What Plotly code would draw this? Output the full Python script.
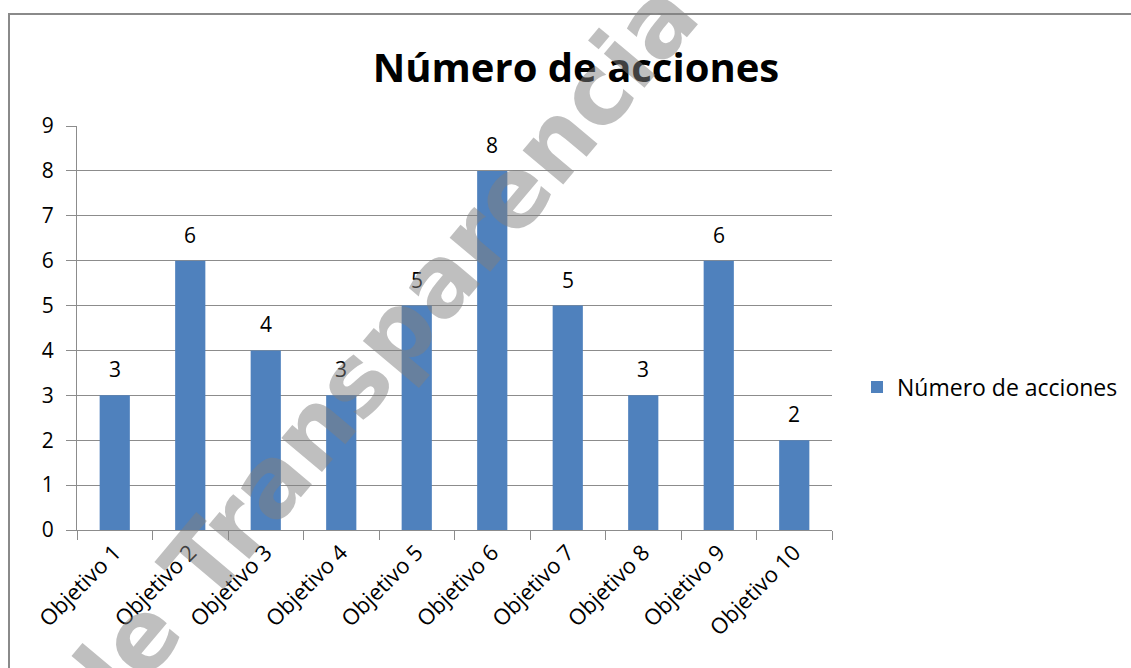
import plotly.graph_objects as go

categories = ["Objetivo 1", "Objetivo 2", "Objetivo 3", "Objetivo 4", "Objetivo 5",
              "Objetivo 6", "Objetivo 7", "Objetivo 8", "Objetivo 9", "Objetivo 10"]
values = [3, 6, 4, 3, 5, 8, 5, 3, 6, 2]
series_name = "Número de acciones"
title_text = "Número de acciones"
watermark_text = "de Transparencia"
y_ticks = list(range(0, 10))

W, H = 1131, 668
L, R, T, B = 77, 299, 126, 138
pw, ph = W - L - R, H - T - B

def px(x):
    return (x - L) / pw

def py(y):
    return (H - B - y) / ph

FONT = "Open Sans"
GRID = "#8C8C8C"

fig = go.Figure()
fig.add_trace(go.Bar(
    x=categories, y=values, name=series_name,
    marker=dict(color="#4F81BD", line=dict(width=0)),
    showlegend=True,
))

annotations = []
for c, v in zip(categories, values):
    annotations.append(dict(
        x=c, y=v, xref="x", yref="y", text=str(v), showarrow=False,
        yanchor="bottom", yshift=10, font=dict(family=FONT, size=21, color="#000000"),
    ))

annotations.append(dict(
    x=px(375), y=py(356), xref="paper", yref="paper", text="<b>" + watermark_text + "</b>",
    showarrow=False, textangle=-50, xanchor="center", yanchor="middle",
    font=dict(family="DejaVu Sans", size=97, color="rgba(128,128,128,0.5)"),
))

fig.update_layout(
    width=W, height=H,
    margin=dict(l=L, r=R, t=T, b=B, pad=0, autoexpand=False),
    paper_bgcolor="#FFFFFF", plot_bgcolor="#FFFFFF",
    bargap=0.6,
    title=dict(text="<b>" + title_text + "</b>", xref="container", yref="container",
               x=576 / W, y=1 - 68 / H, xanchor="center", yanchor="middle",
               font=dict(family=FONT, size=40, color="#000000")),
    legend=dict(x=px(857), y=py(387), xanchor="left", yanchor="middle",
                font=dict(family=FONT, size=23, color="#000000"),
                bgcolor="rgba(0,0,0,0)"),
    xaxis=dict(
        showgrid=False, showline=True, linecolor=GRID, linewidth=1,
        ticks="outside", ticklen=9, tickcolor=GRID, tickwidth=1, tickson="boundaries",
        tickangle=-45, tickfont=dict(family=FONT, size=22, color="#000000"),
        fixedrange=True,
    ),
    yaxis=dict(
        range=[0, 9], tickvals=y_ticks, showgrid=True, gridcolor=GRID, gridwidth=1,
        showline=True, linecolor=GRID, linewidth=1, zeroline=False,
        ticks="outside", ticklen=10, tickcolor=GRID, tickwidth=1,
        tickfont=dict(family=FONT, size=21, color="#000000"), ticklabelstandoff=8,
        fixedrange=True,
    ),
    annotations=annotations,
    shapes=[dict(type="rect", xref="paper", yref="paper",
                 x0=px(9), x1=px(W + 20), y0=py(H + 20), y1=py(14),
                 line=dict(color="#8A8A8A", width=2), fillcolor="rgba(0,0,0,0)", layer="below")],
)

fig.write_html("out.html", config={"displayModeBar": False})

with open("out.html", "r", encoding="utf-8") as f:
    html = f.read()
html = html.replace("<head>", "<head><style>html,body{margin:0;padding:0;overflow:hidden;}</style>", 1)
with open("out.html", "w", encoding="utf-8") as f:
    f.write(html)
